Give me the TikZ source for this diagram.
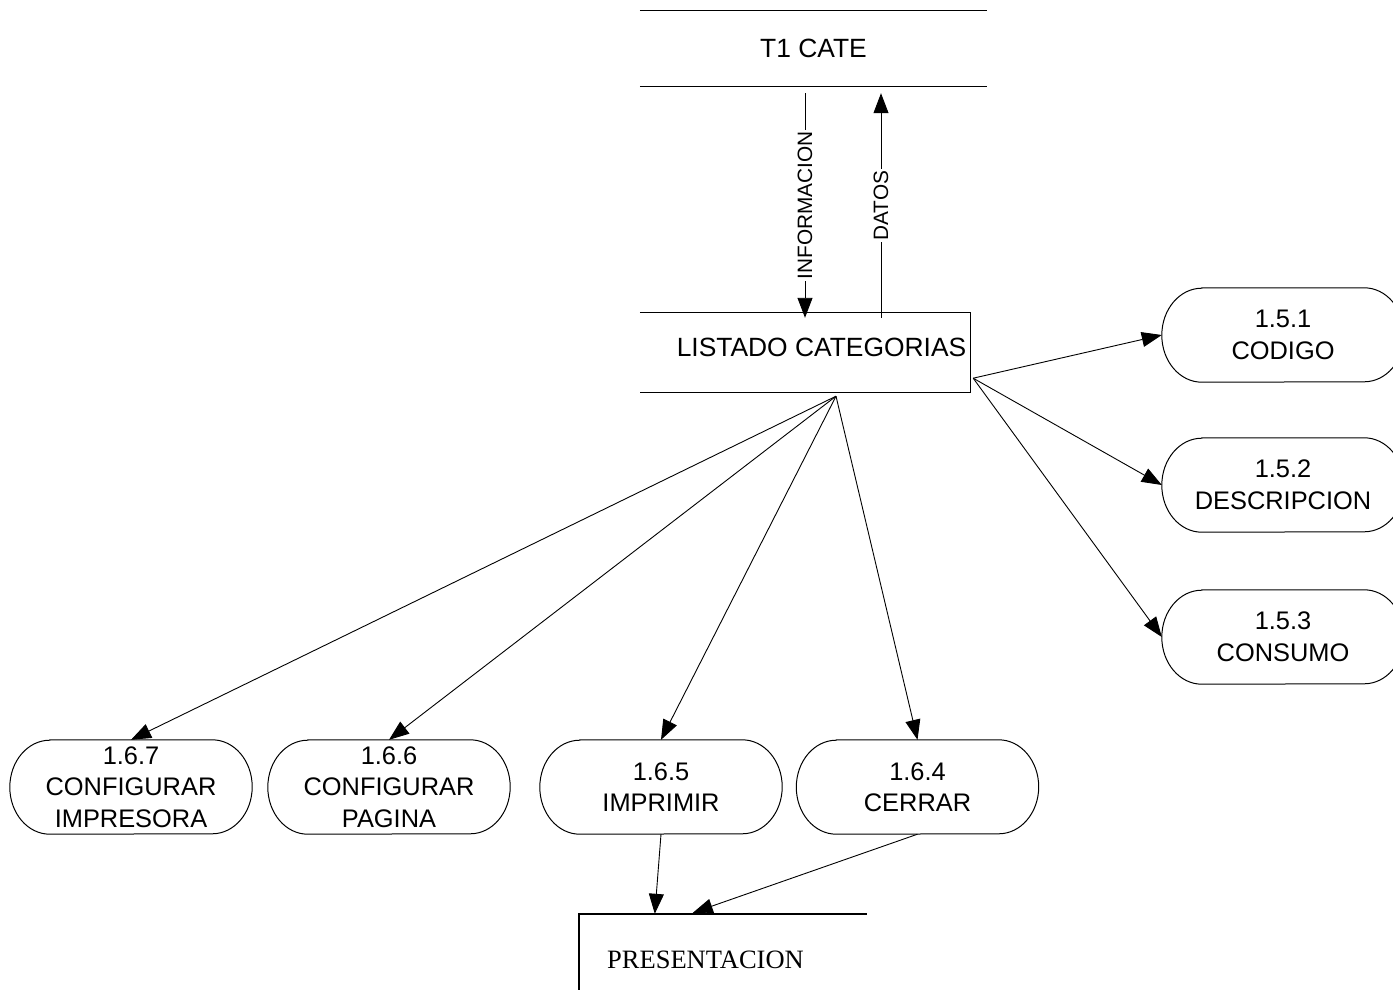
\documentclass[tikz,border=0pt]{standalone}
\usepackage{fontspec}
\setmainfont{Liberation Sans}
\newfontfamily\presfont{Liberation Serif}
\usetikzlibrary{arrows.meta,calc}

\tikzset{
  flow/.style={draw, line width=0.9pt, -{Triangle[length=20pt,width=15pt]}},
  storeline/.style={line width=1.3pt},
  presline/.style={line width=2.2pt},
  bigtext/.style={font=\fontsize{26.4}{30}\selectfont, inner sep=0pt},
  procnode/.style={rectangle, minimum width=242pt, minimum height=94pt, inner sep=0pt,
    align=center, font=\fontsize{25.4}{31.5}\selectfont},
  flowlabel/.style={font=\fontsize{20.8}{24}\selectfont, rotate=90, fill=white, inner sep=1.5pt},
}

% process bubble: flat top and bottom, elliptical ends
\newcommand\procpill[4]{%
  \node[procnode] (#1) at (#2,#3) {#4};
  \draw[line width=1pt] ($(#1.north west)+(40pt,0)$) -- ($(#1.north east)+(-40pt,0)$)
    arc[start angle=90,end angle=-90,x radius=40pt,y radius=47pt]
    -- ($(#1.south west)+(40pt,0)$)
    arc[start angle=270,end angle=90,x radius=40pt,y radius=47pt] -- cycle;
}

\begin{document}
\begin{tikzpicture}[x=1pt,y=-1pt]
\useasboundingbox (0,0) rectangle (1393,990);
\clip (0,0) rectangle (1393,990);
\fill[white] (0,0) rectangle (1393,990);

% data store T1 CATE
\node[bigtext, minimum width=347pt, minimum height=75pt] (t1) at (813.5,48.5) {T1 CATE};
\draw[storeline] (t1.north west) -- (t1.north east);
\draw[storeline] (t1.south west) -- (t1.south east);

% listing box
\node[minimum width=330pt, minimum height=79pt, inner sep=0pt] (lc) at (805,352.5) {};
\draw[storeline] (lc.north west) -- (lc.north east) -- (lc.south east) -- (lc.south west);
\node[bigtext] (lctext) at (821.5,347) {LISTADO CATEGORIAS};

% flows between the store and the listing
\coordinate (infoA) at ($(t1.south)+(-8.5,7)$);
\draw[flow] (infoA) -- node[flowlabel]{INFORMACION} ([yshift=-5pt]lc.north);
\coordinate (datA) at ($(lc.north)+(76,5)$);
\draw[flow] (datA) -- node[flowlabel]{DATOS} ($(t1.south)+(67.5,7)$);

% processes
\procpill{p151}{1283}{335}{1.5.1\\CODIGO}
\procpill{p152}{1283}{485}{1.5.2\\DESCRIPCION}
\procpill{p153}{1283}{637}{1.5.3\\CONSUMO}
\procpill{p167}{131}{787}{1.6.7\\CONFIGURAR\\IMPRESORA}
\procpill{p166}{389}{787}{1.6.6\\CONFIGURAR\\PAGINA}
\procpill{p165}{661}{787}{1.6.5\\IMPRIMIR}
\procpill{p164}{917.5}{787}{1.6.4\\CERRAR}

% presentation store
\node[minimum width=288pt, minimum height=86pt, inner sep=0pt] (pres) at (723,957) {};
\draw[presline] (pres.south west) -- (pres.north west) -- (pres.north east);
\node[font=\presfont\fontsize{26.5}{30}\selectfont, inner sep=0pt, anchor=west] (prestext) at (607,960) {PRESENTACION};

% fan-out from the listing
\coordinate (rfan) at ($(lc.south east)+(3,-14)$);
\draw[flow] (rfan) -- (p151.west);
\draw[flow] (rfan) -- (p152.west);
\draw[flow] (rfan) -- (p153.west);

\coordinate (fan) at ($(lc.south)+(31,4)$);
\draw[flow] (fan) -- (p167.north);
\draw[flow] (fan) -- (p166.north);
\draw[flow] (fan) -- (p165.north);
\draw[flow] (fan) -- (p164.north);

% into the presentation
\draw[flow] (p165.south) -- ($(pres.north west)+(76,0)$);
\draw[flow] (p164.south) -- ($(pres.north west)+(114,-1)$);
\end{tikzpicture}
\end{document}
